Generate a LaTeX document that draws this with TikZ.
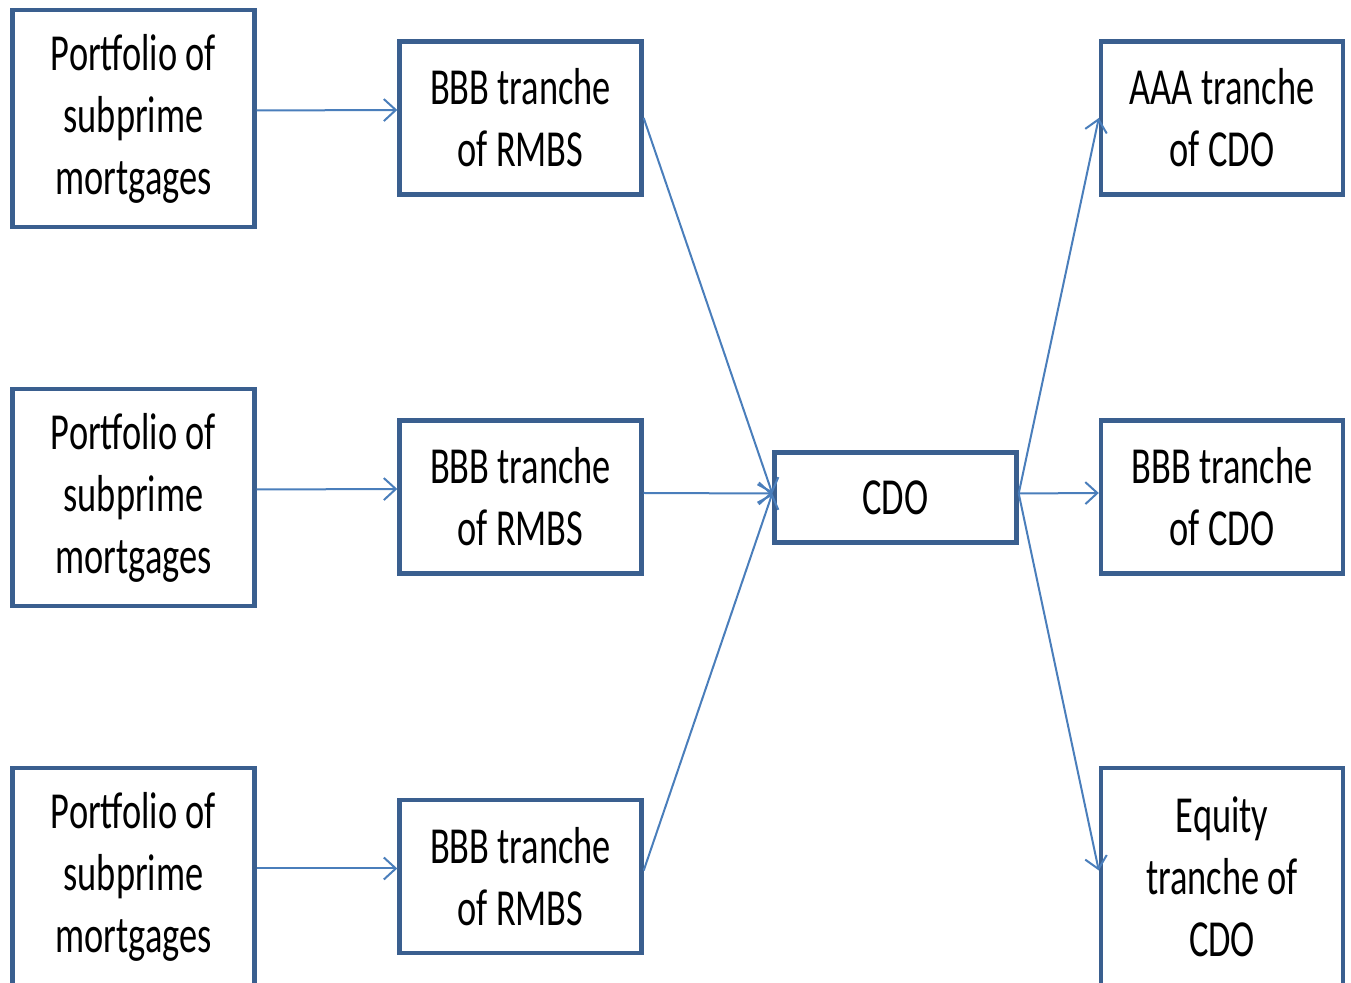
\documentclass[tikz,border=0pt]{standalone}
\usepackage{fontspec}
\setmainfont{Carlito}[FakeStretch=0.70]
\usetikzlibrary{positioning,
	arrows.meta}
\definecolor{boxblue}{HTML}{3A5F8F}
\definecolor{arrblue}{HTML}{4A7EBB}
\tikzstyle{box}=[draw=boxblue, line width=2.2pt, align=center, inner sep=0,
		font=\fontsize{26}{31}\selectfont]
\tikzstyle{big}=[box, minimum width=121pt, minimum height=108.5pt]
\tikzstyle{mid}=[box, minimum width=121pt, minimum height=76.5pt]
\tikzstyle{arr}=[draw=arrblue, line width=1pt, -{Straight Barb[length=6pt,width=11pt]}]

\begin{document}
\begin{tikzpicture}[x=0.5pt, y=-0.5pt]
        \useasboundingbox (0,0) rectangle (1351,983);
        \clip (0,0) rectangle (1351,983);
        % portfolios
        \node[big] (pf1) at (133.5,118.5) {Portfolio of\\subprime\\mortgages};
        \node[big] (pf2) at (133.5,497.5) {Portfolio of\\subprime\\mortgages};
        \node[big] (pf3) at (133.5,876.5) {Portfolio of\\subprime\\mortgages};
        % rmbs tranches
        \node[mid] (rm1) at (520.5,118) {BBB tranche\\of RMBS};
        \node[mid] (rm2) at (520.5,497) {BBB tranche\\of RMBS};
        \node[mid] (rm3) at (520.5,876.5) {BBB tranche\\of RMBS};
        \node[box, minimum width=121pt, minimum height=45pt] (cdo) at (895.5,497.5) {CDO};
        % cdo tranches
        \node[mid] (aaa) at (1222,118) {AAA tranche\\of CDO};
        \node[mid] (bbb) at (1222,497) {BBB tranche\\of CDO};
        \node[big] (eq) at (1222,876.5) {Equity\\tranche of\\CDO};
        \draw[arr] ([yshift=4pt]pf1.east) -- ([yshift=4pt]rm1.west);
        \draw[arr] ([yshift=4pt]pf2.east) -- ([yshift=4pt]rm2.west);
        \draw[arr] ([yshift=4pt]pf3.east) -- ([yshift=4pt]rm3.west);
        \draw[arr] (rm1.east) -- ([yshift=2pt]cdo.west);
        \draw[arr] ([yshift=2pt]rm2.east) -- ([yshift=2pt]cdo.west);
        \draw[arr] ([yshift=3pt]rm3.east) -- ([yshift=2pt]cdo.west);
        \draw[arr] ([yshift=2pt]cdo.east) -- (aaa.west);
        \draw[arr] ([yshift=2pt]cdo.east) -- ([yshift=2pt]bbb.west);
        \draw[arr] ([yshift=2pt]cdo.east) -- ([yshift=3pt]eq.west);
\end{tikzpicture}
\end{document}
